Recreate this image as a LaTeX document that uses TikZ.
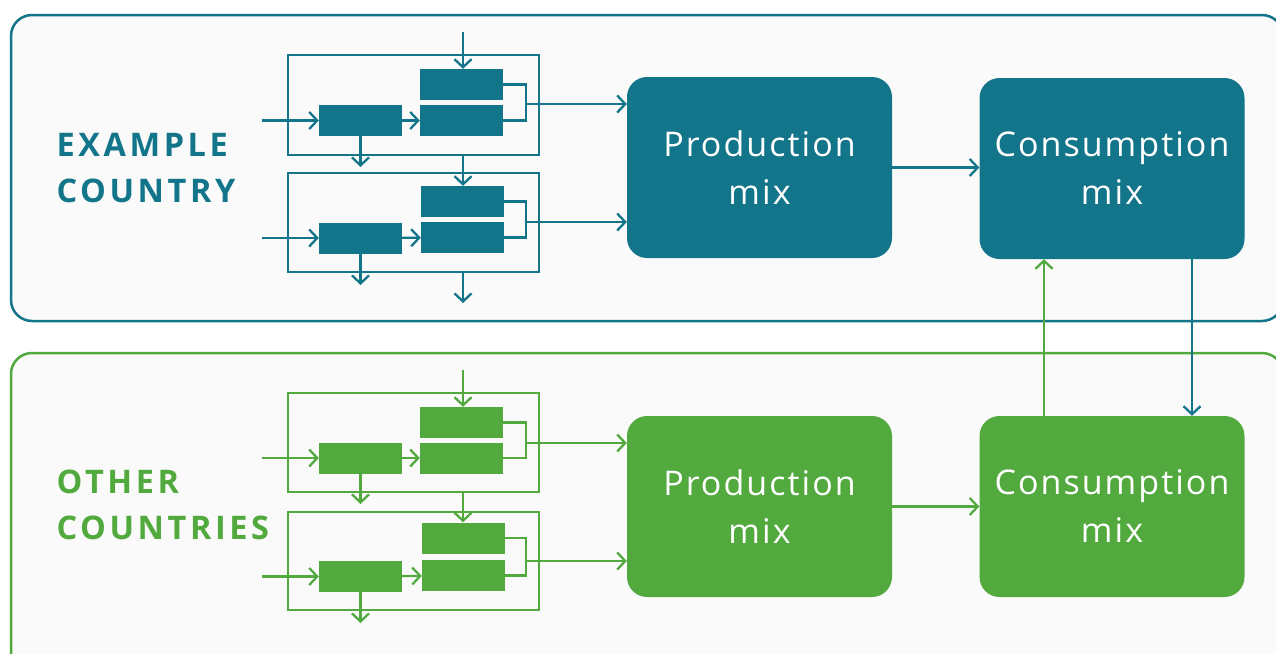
\documentclass[tikz,border=0pt]{standalone}
\usepackage{fontspec}
\setmainfont{Open Sans}
\usetikzlibrary{arrows.meta}
\definecolor{exteal}{HTML}{13758A}
\definecolor{otgreen}{HTML}{52AA3E}
\definecolor{panel}{HTML}{FAFAFA}
\tikzset{
  flow/.style={line width=2.3pt,-{Straight Barb[length=8pt,width=17pt]}},
  link/.style={line width=2.3pt},
  unit/.style={draw,line width=2.3pt,inner sep=0pt,minimum width=251pt},
  block/.style={inner sep=0pt,minimum width=83pt,minimum height=31pt},
  mixbox/.style={rounded corners=20pt,inner sep=0pt,minimum width=265pt,minimum height=181pt,
    text=white,align=center,font=\fontsize{34}{48}\selectfont\addfontfeatures{LetterSpace=6}},
  region/.style={align=left,anchor=base west,
    font=\fontsize{32.5}{46}\selectfont\bfseries\addfontfeatures{LetterSpace=11}}
}
\begin{document}
\begin{tikzpicture}[x=1pt,y=-1pt]
  \useasboundingbox[fill=white] (0,0) rectangle (1276,653);

  %Frames
  \draw[exteal,line width=2.5pt,fill=panel,rounded corners=21pt] (11,15) rectangle (1283,321);
  \draw[otgreen,line width=2.5pt,fill=panel,rounded corners=21pt] (11,353) rectangle (1283,690);

  % Text Node
  \node[region,text=exteal] (exlabel) at (53,202) {EXAMPLE\\COUNTRY};
  \node[region,text=otgreen] (otlabel) at (53,539) {OTHER\\COUNTRIES};

  %Mix boxes
  \node[mixbox,fill=exteal] (exprod) at (759.5,167.5) {Production\\mix};
  \node[mixbox,fill=exteal] (excons) at (1112,168.5) {Consumption\\mix};
  \node[mixbox,fill=otgreen] (otprod) at (759.5,506.5) {Production\\mix};
  \node[mixbox,fill=otgreen] (otcons) at (1112,506.5) {Consumption\\mix};

  %Example country, units
  \begin{scope}[exteal]
    \node[unit,minimum height=100pt] (ex1unit) at (413.5,105) {};
    \node[unit,minimum height=99pt] (ex2unit) at (413.5,222.5) {};
    \node[block,fill=exteal] (ex1a) at (360.5,120.5) {};
    \node[block,fill=exteal] (ex1b) at (461.5,84.5) {};
    \node[block,fill=exteal] (ex1c) at (461.5,120.5) {};
    \node[block,fill=exteal] (ex2a) at (360.5,238) {};
    \node[block,fill=exteal] (ex2b) at (462.5,201.5) {};
    \node[block,fill=exteal] (ex2c) at (462.5,237.5) {};
    \coordinate (ex1src) at (262,120.5);
    \coordinate (ex2src) at (262,238);
    \coordinate (ex1top) at (463,32);
    \coordinate (ex1brk) at (526,104);
    \coordinate (ex2brk) at (526,222);
    \coordinate (ex1drop) at (360.5,167);
    \coordinate (ex2drop) at (360.5,285);
    \coordinate (ex2out) at (463,303);
    %Straight Lines
    \draw[flow] (ex1src) -- (ex1a);
    \draw[flow] (ex1a) -- (ex1c);
    \draw[flow] (ex1top) -- (ex1top |- ex1b.north);
    \draw[link] (ex1b.east) -| (ex1brk) |- (ex1c.east);
    \draw[flow] (ex1brk) -- (ex1brk -| exprod.west);
    \draw[flow] (ex1a) -- (ex1drop);
    \draw[flow] (ex1top |- ex1unit.south) -- (ex1top |- ex2b.north);
    \draw[flow] (ex2src) -- (ex2a);
    \draw[flow] (ex2a) -- (ex2c);
    \draw[link] (ex2b.east) -| (ex2brk) |- (ex2c.east);
    \draw[flow] (ex2brk) -- (ex2brk -| exprod.west);
    \draw[flow] (ex2a) -- (ex2drop);
    \draw[flow] (ex1top |- ex2unit.south) -- (ex2out);
    \draw[flow] (exprod.east) -- (exprod.east -| excons.west);
  \end{scope}

  %Other countries, units
  \begin{scope}[otgreen]
    \node[unit,minimum height=99pt] (ot1unit) at (413.5,442.5) {};
    \node[unit,minimum height=98pt] (ot2unit) at (413.5,561) {};
    \node[block,fill=otgreen] (ot1a) at (360.5,458) {};
    \node[block,fill=otgreen] (ot1b) at (461.5,422.5) {};
    \node[block,fill=otgreen] (ot1c) at (461.5,458) {};
    \node[block,fill=otgreen] (ot2a) at (360.5,576.5) {};
    \node[block,fill=otgreen] (ot2b) at (463.5,538) {};
    \node[block,fill=otgreen] (ot2c) at (463.5,575.5) {};
    \coordinate (ot1src) at (262,458);
    \coordinate (ot2src) at (262,576.5);
    \coordinate (ot1top) at (463,370);
    \coordinate (ot1brk) at (526,443);
    \coordinate (ot2brk) at (526,561);
    \coordinate (ot1drop) at (360.5,504);
    \coordinate (ot2drop) at (360.5,623);
    %Straight Lines
    \draw[flow] (ot1src) -- (ot1a);
    \draw[flow] (ot1a) -- (ot1c);
    \draw[flow] (ot1top) -- (ot1top |- ot1b.north);
    \draw[link] (ot1b.east) -| (ot1brk) |- (ot1c.east);
    \draw[flow] (ot1brk) -- (ot1brk -| otprod.west);
    \draw[flow] (ot1a) -- (ot1drop);
    \draw[flow] (ot1top |- ot1unit.south) -- (ot1top |- ot2b.north);
    \draw[flow] (ot2src) -- (ot2a);
    \draw[flow] (ot2a) -- (ot2c);
    \draw[link] (ot2b.east) -| (ot2brk) |- (ot2c.east);
    \draw[flow] (ot2brk) -- (ot2brk -| otprod.west);
    \draw[flow] (ot2a) -- (ot2drop);
    \draw[flow] (otprod.east) -- (otprod.east -| otcons.west);
  \end{scope}

  %Trade between the two
  \draw[flow,otgreen] ([xshift=-68pt]otcons.north) -- ([xshift=-68pt]excons.south);
  \draw[flow,exteal] ([xshift=80pt]excons.south) -- ([xshift=80pt]otcons.north);
\end{tikzpicture}
\end{document}
